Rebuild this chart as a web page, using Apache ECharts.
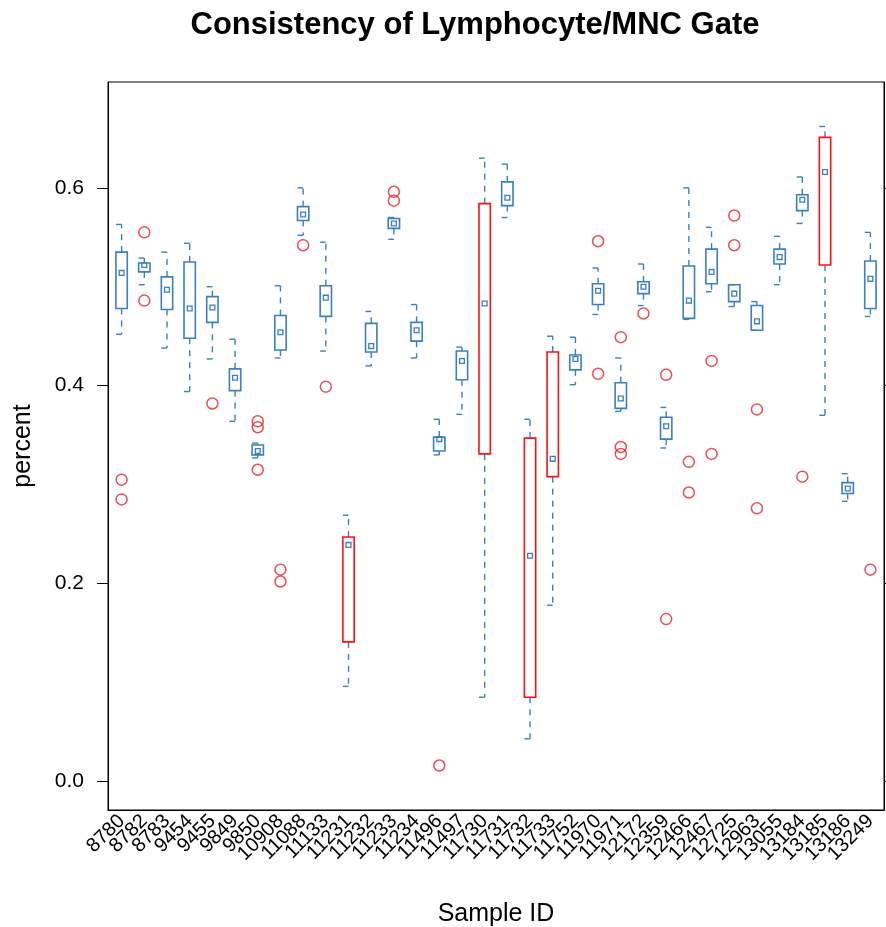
<!DOCTYPE html>
<html>
<head>
<meta charset="utf-8">
<script src="https://cdn.jsdelivr.net/npm/echarts@6/dist/echarts.min.js"></script>
<style>
  html, body { margin: 0; padding: 0; background: #fff; }
</style>
</head>
<body>
<div id="chart" style="width: 886px;height:927px"></div>
<script>
// sample ids along the x axis
var sampleIds = ['8780', '8782', '8783', '9454', '9455', '9849', '9850', '10908', '11088', '11133',
  '11231', '11232', '11233', '11234', '11496', '11497', '11730', '11731', '11732', '11733',
  '11752', '11970', '11971', '12172', '12359', '12466', '12467', '12725', '12963', '13055',
  '13184', '13185', '13186', '13249']

// box stats per sample
var whiskerLow = [0.452, 0.502, 0.438, 0.394, 0.427, 0.364, 0.327, 0.428, 0.552, 0.435,
  0.096, 0.420, 0.548, 0.428, 0.330, 0.371, 0.085, 0.570, 0.043, 0.178,
  0.401, 0.472, 0.374, 0.481, 0.337, 0.467, 0.495, 0.480, 0.456, 0.502,
  0.564, 0.370, 0.283, 0.470]
var lowerQuartile = [0.478, 0.515, 0.477, 0.448, 0.464, 0.395, 0.330, 0.436, 0.567, 0.470,
  0.141, 0.434, 0.559, 0.445, 0.334, 0.406, 0.331, 0.582, 0.085, 0.308,
  0.416, 0.482, 0.377, 0.493, 0.346, 0.468, 0.503, 0.485, 0.456, 0.523,
  0.577, 0.522, 0.291, 0.478]
var medians = [0.514, 0.522, 0.497, 0.478, 0.479, 0.408, 0.334, 0.454, 0.573, 0.489,
  0.239, 0.440, 0.564, 0.456, 0.346, 0.425, 0.483, 0.590, 0.228, 0.326,
  0.427, 0.496, 0.387, 0.500, 0.359, 0.486, 0.515, 0.493, 0.465, 0.530,
  0.588, 0.616, 0.296, 0.508]
var upperQuartile = [0.535, 0.524, 0.510, 0.525, 0.490, 0.417, 0.340, 0.471, 0.581, 0.501,
  0.247, 0.463, 0.569, 0.464, 0.348, 0.435, 0.584, 0.606, 0.347, 0.434,
  0.431, 0.503, 0.403, 0.505, 0.368, 0.521, 0.538, 0.502, 0.481, 0.538,
  0.593, 0.651, 0.302, 0.526]
var whiskerHigh = [0.563, 0.529, 0.535, 0.544, 0.500, 0.447, 0.342, 0.501, 0.600, 0.545,
  0.269, 0.475, 0.570, 0.482, 0.366, 0.439, 0.630, 0.624, 0.366, 0.450,
  0.449, 0.519, 0.428, 0.523, 0.378, 0.600, 0.560, 0.502, 0.485, 0.551,
  0.611, 0.662, 0.311, 0.555]

// samples whose box is drawn in red
var flaggedIds = ['11231', '11730', '11732', '11733', '13185']

// outlying points
var outlierIds = ['8780', '8780', '8782', '8782', '9455', '9850', '9850', '9850', '10908', '10908',
  '11088', '11133', '11233', '11233', '11496', '11970', '11970', '11971', '11971', '11971',
  '12172', '12359', '12359', '12466', '12466', '12467', '12467', '12725', '12725', '12963',
  '12963', '13184', '13249']
var outlierValues = [0.305, 0.285, 0.555, 0.486, 0.382, 0.364, 0.358, 0.315, 0.214, 0.202,
  0.542, 0.399, 0.596, 0.587, 0.016, 0.546, 0.412, 0.449, 0.338, 0.331,
  0.473, 0.411, 0.164, 0.323, 0.292, 0.425, 0.331, 0.572, 0.542, 0.376,
  0.276, 0.308, 0.214]

var yTicks = [0, 0.2, 0.4, 0.6]

var BLUE = '#3a7fc1'
var RED = '#ff1010'
var FONT = 'Liberation Sans, Arial, Helvetica, sans-serif'

// lattice pads the x range by 0.6 of a slot each side, echarts' category axis by 0.5,
// so the label grid is pulled in by the 0.1 slot difference
var plotLeft = 108
var plotRight = 2
var slot = (886 - plotLeft - plotRight) / (sampleIds.length + 0.2)
var pad = slot * 0.1

var boxData = sampleIds.map(function (id, i) {
  return [i, whiskerLow[i], lowerQuartile[i], medians[i], upperQuartile[i], whiskerHigh[i],
    flaggedIds.indexOf(id) >= 0 ? 1 : 0]
})
var outlierData = outlierIds.map(function (id, i) {
  return [sampleIds.indexOf(id), outlierValues[i]]
})

function renderBox (params, api) {
  var i = api.value(0)
  var lo = api.coord([i, api.value(1)])
  var q1 = api.coord([i, api.value(2)])
  var md = api.coord([i, api.value(3)])
  var q3 = api.coord([i, api.value(4)])
  var hi = api.coord([i, api.value(5)])
  var flagged = api.value(6) === 1
  var w = api.size([1, 0])[0] * 0.5
  var x = lo[0]
  var whisker = { stroke: BLUE, lineWidth: 1.4, lineDash: [6, 6] }
  var solid = { stroke: BLUE, lineWidth: 1.4 }
  return {
    type: 'group',
    children: [
      { type: 'line', shape: { x1: x, y1: q3[1], x2: x, y2: hi[1] }, style: whisker },
      { type: 'line', shape: { x1: x, y1: q1[1], x2: x, y2: lo[1] }, style: whisker },
      { type: 'line', shape: { x1: x - w / 2, y1: hi[1], x2: x, y2: hi[1] }, style: solid },
      { type: 'line', shape: { x1: x - w / 2, y1: lo[1], x2: x, y2: lo[1] }, style: solid },
      {
        type: 'rect',
        shape: { x: x - w / 2, y: q3[1], width: w, height: q1[1] - q3[1] },
        style: { fill: 'none', stroke: flagged ? RED : BLUE, lineWidth: 1.6 }
      },
      {
        type: 'rect',
        shape: { x: x - 2.4, y: md[1] - 2.4, width: 4.8, height: 4.8 },
        style: { fill: 'none', stroke: BLUE, lineWidth: 1.3 }
      }
    ]
  }
}

var chart = echarts.init(document.getElementById('chart'))
chart.setOption({
  backgroundColor: '#fff',
  animation: false,
  title: {
    text: 'Consistency of Lymphocyte/MNC Gate',
    left: 470,
    top: 5,
    textAlign: 'center',
    textStyle: { fontFamily: FONT, fontSize: 31, fontWeight: 'bold', color: '#000' }
  },
  grid: [{
    left: plotLeft,
    right: plotRight,
    top: 82,
    bottom: 117,
    outerBoundsMode: 'none',
    show: true,
    borderColor: '#000',
    borderWidth: 1
  }, {
    left: plotLeft + pad,
    right: plotRight + pad,
    top: 82,
    bottom: 117,
    outerBoundsMode: 'none',
    show: false
  }],
  xAxis: [{
    type: 'value',
    gridIndex: 0,
    min: -0.6,
    max: sampleIds.length - 0.4,
    name: 'Sample ID',
    nameLocation: 'middle',
    nameGap: 92,
    nameTextStyle: { fontFamily: FONT, fontSize: 25, color: '#000' },
    axisLine: { show: true, onZero: false, lineStyle: { color: '#000' } },
    axisTick: { show: false },
    splitLine: { show: false },
    axisLabel: { show: false }
  }, {
    type: 'category',
    gridIndex: 1,
    data: sampleIds,
    boundaryGap: true,
    axisLine: { show: false, onZero: false },
    axisTick: { show: false },
    splitLine: { show: false },
    axisLabel: {
      interval: 0,
      rotate: 45,
      margin: 8,
      fontFamily: FONT,
      fontSize: 20,
      color: '#000'
    }
  }],
  yAxis: [{
    type: 'value',
    gridIndex: 0,
    min: -0.029,
    max: 0.707,
    name: 'percent',
    nameLocation: 'middle',
    nameGap: 72,
    nameTextStyle: { fontFamily: FONT, fontSize: 25, color: '#000' },
    axisLine: { show: true, onZero: false, lineStyle: { color: '#000' } },
    axisTick: { show: true, length: 11, customValues: yTicks, lineStyle: { color: '#000' } },
    splitLine: { show: false },
    axisLabel: {
      customValues: yTicks,
      showMinLabel: true,
      showMaxLabel: true,
      margin: 24,
      fontFamily: FONT,
      fontSize: 21,
      color: '#000',
      formatter: function (v) { return v.toFixed(1) }
    }
  }, {
    type: 'value',
    gridIndex: 0,
    position: 'right',
    min: -0.029,
    max: 0.707,
    axisLine: { show: true, onZero: false, lineStyle: { color: '#000' } },
    axisTick: { show: true, length: 11, customValues: yTicks, lineStyle: { color: '#000' } },
    splitLine: { show: false },
    axisLabel: { show: false }
  }, {
    type: 'value',
    gridIndex: 1,
    show: false
  }],
  series: [{
    type: 'custom',
    xAxisIndex: 0,
    yAxisIndex: 0,
    renderItem: renderBox,
    encode: { x: 0, y: [1, 2, 3, 4, 5] },
    data: boxData,
    z: 2
  }, {
    type: 'scatter',
    xAxisIndex: 0,
    yAxisIndex: 0,
    symbol: 'circle',
    symbolSize: 11,
    itemStyle: { color: 'rgba(255,255,255,0)', borderColor: '#e8222a', borderWidth: 1.5 },
    data: outlierData,
    z: 3
  }]
})
</script>
</body>
</html>
